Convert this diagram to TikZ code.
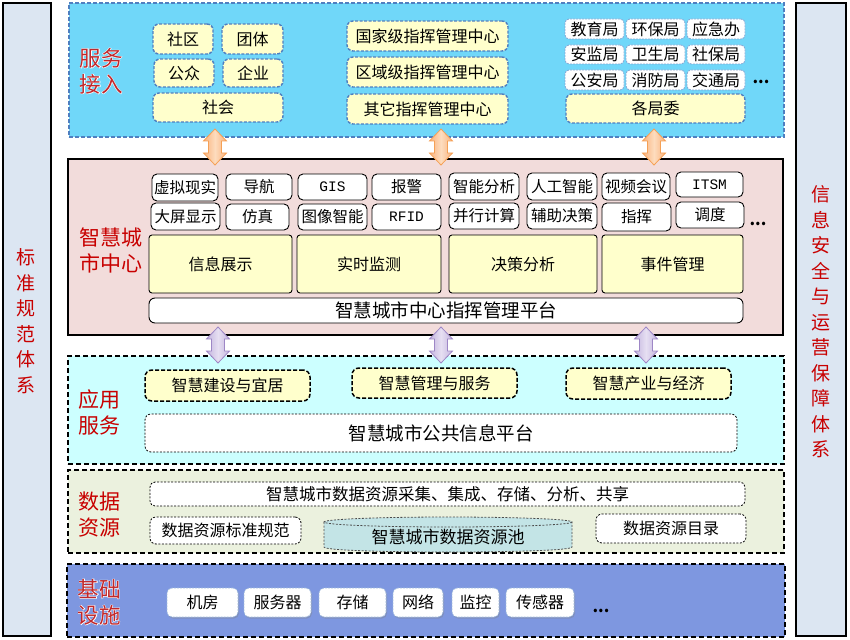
\documentclass[tikz,border=0pt]{standalone}
\usepackage{fontspec}
\setmainfont{Noto Sans CJK SC}
\setmonofont{Liberation Mono}
\newfontfamily\glowfont{Noto Sans CJK SC}[FakeBold=4]
\usetikzlibrary{shadows}
\definecolor{sidebg}{HTML}{DCE6F2}
\definecolor{lAbg}{HTML}{70D7F9}
\definecolor{lAline}{HTML}{4F7FC0}
\definecolor{boxyel}{HTML}{FFFFCC}
\definecolor{lBbg}{HTML}{F2DCDB}
\definecolor{lCbg}{HTML}{CCFFFF}
\definecolor{lDbg}{HTML}{EBF1DE}
\definecolor{lEbg}{HTML}{7E97E0}
\definecolor{labred}{HTML}{C80000}
\definecolor{glowred}{HTML}{C0282C}
\definecolor{poolbg}{HTML}{C3E4E6}
\definecolor{orfill}{HTML}{F9B27C}
\definecolor{orlight}{HTML}{FDDCBE}
\definecolor{orline}{HTML}{F5A055}
\definecolor{pufill}{HTML}{C4B5DE}
\definecolor{pulight}{HTML}{E6DFF2}
\definecolor{puline}{HTML}{9E87C6}
\newcommand{\bx}[7]{\node[#6, minimum width={(#4)-(#2)}, minimum height={(#5)-(#3)}] (#1) at ({((#2)+(#4))/2},{((#3)+(#5))/2}) {#7};}
\newcommand{\darrow}[5]{\draw[#4] (#1,#2) -- ({#1+11.5},{#2+12}) -- ({#1+6.5},{#2+12}) -- ({#1+6.5},{#3-12}) -- ({#1+11.5},{#3-12}) -- (#1,#3) -- ({#1-11.5},{#3-12}) -- ({#1-6.5},{#3-12}) -- ({#1-6.5},{#2+12}) -- ({#1-11.5},{#2+12}) -- cycle; \coordinate (#5) at (#1,{(#2+#3)/2});}
\tikzset{
  every node/.style={inner sep=0pt, outer sep=0pt},
  f16/.style={font=\fontsize{16}{16}\selectfont},
  sidecol/.style={draw=black, line width=2pt, fill=sidebg},
  layerA/.style={draw=lAline, line width=1.5pt, dash pattern=on 4pt off 2pt, fill=lAbg},
  yboxA/.style={draw=lAline, line width=1.4pt, dash pattern=on 3pt off 1.5pt, fill=boxyel, rounded corners=6pt, f16},
  wboxA/.style={draw=lAline!70, line width=0.8pt, dash pattern=on 2pt off 1pt, fill=white, rounded corners=4pt, f16},
  layerB/.style={draw=black, line width=2.5pt, fill=lBbg},
  sboxB/.style={draw=black, line width=0.9pt, fill=white, rounded corners=5pt, font=\fontsize{15.5}{16}\selectfont},
  mboxB/.style={draw=black, line width=0.9pt, fill=white, rounded corners=5pt, font=\ttfamily\fontsize{14.5}{15}\selectfont},
  yboxB/.style={draw=black, line width=0.9pt, fill=boxyel, rounded corners=3pt, f16},
  platB/.style={draw=black, line width=0.9pt, fill=white, rounded corners=6pt, font=\fontsize{18.5}{19}\selectfont},
  layerK/.style={draw=black, line width=1.8pt, dash pattern=on 5pt off 3pt},
  yboxC/.style={draw=black, line width=1.5pt, dash pattern=on 4pt off 2pt, fill=boxyel, rounded corners=7pt, f16},
  thinbox/.style={draw=black, line width=0.8pt, dash pattern=on 2pt off 1.5pt, fill=white, rounded corners=6pt, f16},
  infbox/.style={draw=lAline!55, line width=0.7pt, dash pattern=on 2pt off 1pt, fill=white, rounded corners=5pt, f16,
    drop shadow={shadow xshift=1pt, shadow yshift=-1.5pt, opacity=0.35}},
  redlab/.style={text=labred, align=center, font=\fontsize{21}{26}\selectfont},
  glowlab/.style={align=center, font=\glowfont\fontsize{21.5}{26}\selectfont},
  sidetext/.style={text=labred, align=center, font=\fontsize{19}{25.5}\selectfont},
  dots/.style={font=\fontsize{16}{16}\selectfont\bfseries},
  orarrow/.style={draw=orline, line width=0.8pt, left color=orfill, right color=orfill, middle color=orlight},
  puarrow/.style={draw=puline, line width=0.8pt, left color=pufill, right color=pufill, middle color=pulight},
  pool/.style={draw=black!70, line width=0.8pt, dash pattern=on 2pt off 1.5pt, fill=poolbg},
}
\begin{document}
\begin{tikzpicture}[x=1pt,y=-1pt]
\useasboundingbox (0,0) rectangle (850,639);
% side columns
\bx{left}{3}{3}{51}{636}{sidecol}{}
\bx{right}{796}{3}{846}{636}{sidecol}{}
\node[sidetext] (lefttxt) at (26,321) {标\\准\\规\\范\\体\\系};
\node[sidetext] (righttxt) at (821,322) {信\\息\\安\\全\\与\\运\\营\\保\\障\\体\\系};
% layers
\bx{L1}{69}{3}{784}{137}{layerA}{}
\bx{L2}{68}{159}{783}{335}{layerB}{}
\bx{L3}{68}{356}{784}{464}{layerK, fill=lCbg}{}
\bx{L4}{68}{470}{784}{553}{layerK, fill=lDbg}{}
\bx{L5}{67}{564}{785}{637}{layerK, fill=lEbg}{}
% arrows
\darrow{215}{129}{165}{orarrow}{oa1}
\darrow{441}{129}{165}{orarrow}{oa2}
\darrow{654}{129}{165}{orarrow}{oa3}
\darrow{218}{327}{363}{puarrow}{pa1}
\darrow{441}{327}{363}{puarrow}{pa2}
\darrow{646}{327}{363}{puarrow}{pa3}
% layer 1
\node[glowlab, text=white] (labAg) at (101,71) {服务\\接入};
\node[glowlab, text=glowred, font=\fontsize{21.5}{26}\selectfont] (labA) at (101,71) {服务\\接入};
\bx{a1}{153}{24}{213}{54}{yboxA}{社区}
\bx{a2}{222}{24}{283}{54}{yboxA}{团体}
\bx{a3}{154}{59}{214}{87}{yboxA}{公众}
\bx{a4}{223}{59}{283}{87}{yboxA}{企业}
\bx{a5}{153}{93}{283}{122}{yboxA}{社会}
\bx{a6}{347}{21}{508}{51}{yboxA}{国家级指挥管理中心}
\bx{a7}{347}{57}{508}{87}{yboxA}{区域级指挥管理中心}
\bx{a8}{347}{94}{508}{124}{yboxA}{其它指挥管理中心}
\bx{w1}{565}{19}{624}{39}{wboxA}{教育局}
\bx{w2}{626}{19}{685}{39}{wboxA}{环保局}
\bx{w3}{687}{19}{745}{39}{wboxA}{应急办}
\bx{w4}{565}{45}{624}{64}{wboxA}{安监局}
\bx{w5}{626}{45}{685}{64}{wboxA}{卫生局}
\bx{w6}{687}{45}{745}{64}{wboxA}{社保局}
\bx{w7}{565}{70}{624}{90}{wboxA}{公安局}
\bx{w8}{626}{70}{685}{90}{wboxA}{消防局}
\bx{w9}{687}{70}{745}{90}{wboxA}{交通局}
\bx{a9}{566}{94}{745}{123}{yboxA}{各局委}
\node[dots] (dotsA) at (761,82) {...};
% layer 2
\node[redlab] (labB) at (111,250) {智慧城\\市中心};
\bx{b1}{152}{174}{218}{201}{sboxB}{虚拟现实}
\bx{b2}{226}{174}{292}{200}{sboxB}{导航}
\bx{b3}{298}{174}{367}{200}{mboxB}{GIS}
\bx{b4}{372}{174}{441}{200}{sboxB}{报警}
\bx{b5}{449}{173}{519}{200}{sboxB}{智能分析}
\bx{b6}{527}{173}{597}{200}{sboxB}{人工智能}
\bx{b7}{602}{173}{670}{200}{sboxB}{视频会议}
\bx{b8}{676}{172}{743}{197}{mboxB}{ITSM}
\bx{b9}{151}{203}{220}{230}{sboxB}{大屏显示}
\bx{b10}{226}{204}{289}{230}{sboxB}{仿真}
\bx{b11}{298}{204}{367}{230}{sboxB}{图像智能}
\bx{b12}{372}{204}{441}{230}{mboxB}{RFID}
\bx{b13}{449}{203}{519}{229}{sboxB}{并行计算}
\bx{b14}{527}{203}{597}{229}{sboxB}{辅助决策}
\bx{b15}{602}{203}{671}{231}{sboxB}{指挥}
\bx{b16}{676}{202}{744}{228}{sboxB}{调度}
\node[dots] (dotsB) at (758,224) {...};
\bx{y1}{149}{235}{292}{293}{yboxB}{信息展示}
\bx{y2}{297}{235}{441}{293}{yboxB}{实时监测}
\bx{y3}{449}{235}{597}{293}{yboxB}{决策分析}
\bx{y4}{602}{235}{743}{293}{yboxB}{事件管理}
\bx{plat}{149}{298}{743}{323}{platB}{智慧城市中心指挥管理平台}
% layer 3
\node[redlab] (labC) at (99,412) {应用\\服务};
\bx{c1}{145}{370}{310}{401}{yboxC}{智慧建设与宜居}
\bx{c2}{352}{368}{517}{398}{yboxC}{智慧管理与服务}
\bx{c3}{566}{368}{731}{399}{yboxC}{智慧产业与经济}
\bx{c4}{145}{414}{737}{452}{thinbox, font=\fontsize{18.5}{19}\selectfont}{智慧城市公共信息平台}
% layer 4
\node[redlab] (labD) at (99,515) {数据\\资源};
\bx{d1}{150}{482}{745}{506}{thinbox, rounded corners=5pt, font=\fontsize{16.5}{17}\selectfont}{智慧城市数据资源采集、集成、存储、分析、共享}
\bx{d2}{150}{517}{301}{544}{thinbox}{数据资源标准规范}
\bx{d3}{596}{514}{746}{543}{thinbox}{数据资源目录}
\draw[pool] (324,522) -- (324,547) .. controls (324,553.7) and (572,553.7) .. (572,547) -- (572,522) -- cycle;
\draw[pool] (448,522) ellipse [x radius=124, y radius=5];
\node[font=\fontsize{17}{17}\selectfont] (pooltxt) at (448,537) {智慧城市数据资源池};
% layer 5
\node[glowlab, text=white] (labEg) at (99,602) {基础\\设施};
\node[glowlab, text=glowred, font=\fontsize{21.5}{26}\selectfont] (labE) at (99,602) {基础\\设施};
\bx{e1}{167}{588}{238}{617}{infbox}{机房}
\bx{e2}{244}{588}{311}{617}{infbox}{服务器}
\bx{e3}{319}{588}{386}{617}{infbox}{存储}
\bx{e4}{393}{588}{443}{617}{infbox}{网络}
\bx{e5}{452}{588}{499}{617}{infbox}{监控}
\bx{e6}{506}{588}{574}{617}{infbox}{传感器}
\node[dots] (dotsE) at (601,611) {...};
\end{tikzpicture}
\end{document}
